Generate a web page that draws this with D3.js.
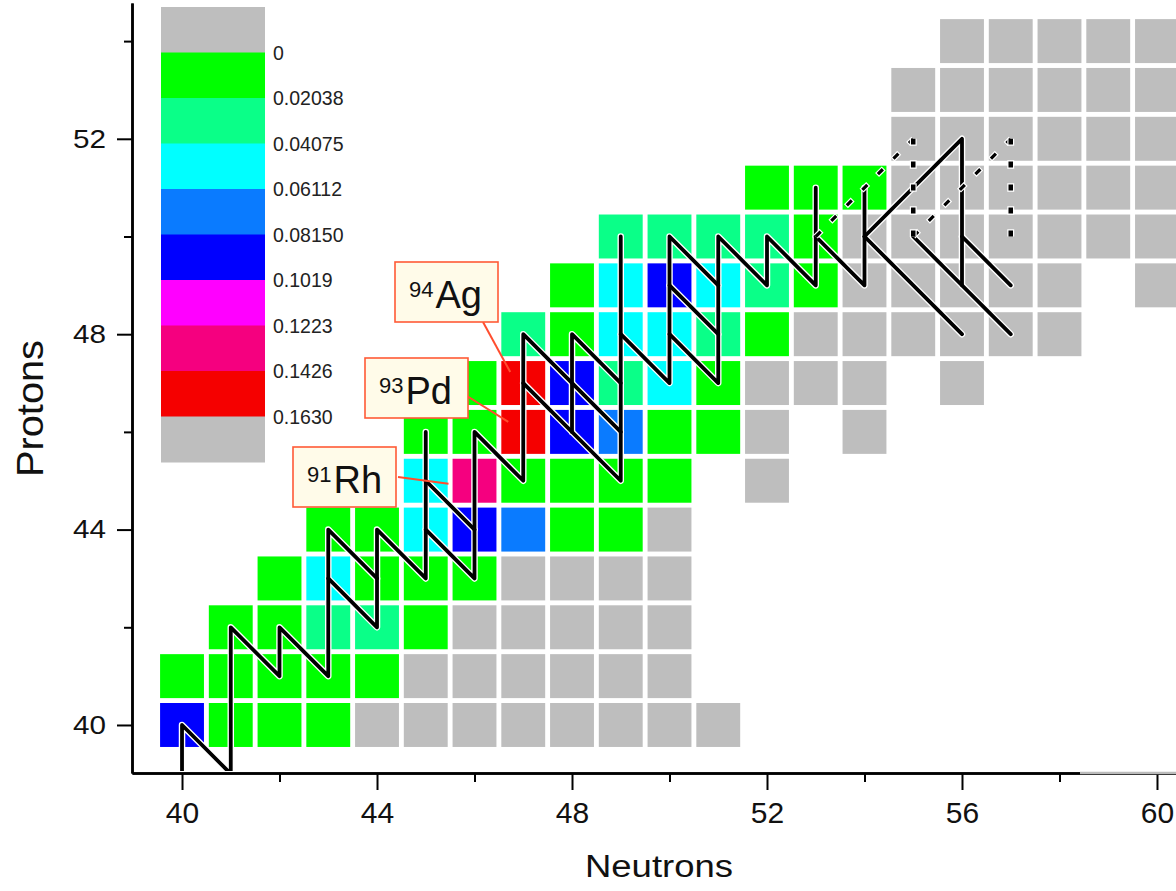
<!DOCTYPE html>
<html>
<head>
<meta charset="utf-8">
<script src="https://cdn.jsdelivr.net/npm/d3@7/dist/d3.min.js"></script>
<style>
  body { margin: 0; background: #fff; }
  svg { display: block; font-family: Arial, "Liberation Sans", sans-serif; }
</style>
</head>
<body>
<svg id="chart" width="1176" height="891"></svg>
<script>
// DATA

// one row of cells per proton number, starting at firstNeutron
// 0 = no flux (grey), null = no cell
var protons = [40, 41, 42, 43, 44, 45, 46, 47, 48, 49, 50, 51, 52, 53, 54];
var firstNeutron = [40, 40, 41, 42, 43, 45, 45, 46, 47, 48, 49, 52, 55, 55, 56];
var rowValues = [
  [0.092, 0.012, 0.010, 0.011, 0, 0, 0, 0, 0, 0, 0, 0],
  [0.008, 0.012, 0.015, 0.010, 0.006, 0, 0, 0, 0, 0, 0],
  [0.014, 0.017, 0.032, 0.028, 0.009, 0, 0, 0, 0, 0],
  [0.011, 0.055, 0.018, 0.013, 0.007, 0, 0, 0, 0],
  [0.009, 0.016, 0.052, 0.095, 0.075, 0.012, 0.005, 0],
  [0.050, 0.135, 0.015, 0.012, 0.008, 0.004, null, 0],
  [0.010, 0.013, 0.158, 0.094, 0.072, 0.011, 0.006, 0, null, 0],
  [0.012, 0.152, 0.090, 0.031, 0.049, 0.009, 0, 0, 0, null, 0],
  [0.027, 0.014, 0.055, 0.050, 0.030, 0.008, 0, 0, 0, 0, 0, 0],
  [0.010, 0.052, 0.088, 0.047, 0.025, 0.007, 0, 0, 0, 0, 0, null, 0],
  [0.030, 0.033, 0.029, 0.024, 0.006, 0, 0, 0, 0, 0, 0, 0],
  [0.012, 0.009, 0.004, 0, 0, 0, 0, 0, 0],
  [0, 0, 0, 0, 0, 0],
  [0, 0, 0, 0, 0, 0],
  [0, 0, 0, 0, 0]
];

var levels = [0, 0.02038, 0.04075, 0.06112, 0.08150, 0.1019, 0.1223, 0.1426, 0.1630];
var levelLabels = ['0', '0.02038', '0.04075', '0.06112', '0.08150', '0.1019', '0.1223', '0.1426', '0.1630'];
var levelColors = ['#bebebe', '#00ff00', '#0aff88', '#00ffff', '#0a7bff',
                   '#0000ff', '#ff00ff', '#f5007f', '#f50000', '#bebebe'];

var xTicks = [40, 44, 48, 52, 56, 60];
var xMinorTicks = [42, 46, 50, 54, 58];
var yTicks = [40, 44, 48, 52];
var yMinorTicks = [42, 46, 50, 54];

// reaction flow, as polylines of [N, Z]
var flowLines = [
  [[40, 39], [40, 40], [41, 39], [41, 42], [42, 41], [42, 42], [43, 41], [43, 44], [44, 43]],
  [[43, 43], [44, 42], [44, 44], [45, 43], [45, 46]],
  [[45, 45], [46, 44]],
  [[45, 44], [46, 43], [46, 46], [47, 45], [47, 48], [49, 46]],
  [[47, 47], [49, 45], [49, 50]],
  [[48, 46], [48, 48], [49, 47]],
  [[49, 48], [50, 47], [50, 50], [51, 49]],
  [[50, 49], [51, 48]],
  [[50, 48], [51, 47], [51, 50], [52, 49], [52, 50], [53, 49], [53, 51]],
  [[53, 50], [54, 49], [54, 51]],
  [[54, 50], [56, 52], [56, 49]],
  [[54, 50], [56, 48]],
  [[55, 50], [57, 48]],
  [[56, 50], [57, 49]]
];
var dashedLines = [
  [[53, 50], [55, 52]],
  [[55, 50], [57, 52]]
];
var dottedLines = [
  [[55, 50], [55, 52]],
  [[57, 50], [57, 52]]
];

// labelled nuclides
var tagMass = [94, 93, 91];
var tagSymbol = ['Ag', 'Pd', 'Rh'];
var tagN = [47, 47, 46];
var tagZ = [47, 46, 45];

// LAYOUT

var tagLayout = [
  { bx: 395, by: 262, sx: 483, sy: 322, ex: -13, ey: -11 },
  { bx: 365, by: 358, sx: 467, sy: 396, ex: -15, ey: -10 },
  { bx: 293, by: 447, sx: 398, sy: 477, ex: -26, ey: 3 }
];

var svg = d3.select('#chart');

var x = d3.scaleLinear().domain([38.974, 60.39]).range([132, 1176]);
var y = d3.scaleLinear().domain([39.017, 54.78]).range([773, 3]);

var color = d3.scaleThreshold()
  .domain(levels.slice(1))
  .range(levelColors.slice(1));
var fill = function(v) {
  return v > 0 ? color(v) : levelColors[0];
};

var cells = [];
protons.forEach(function(z, i) {
  rowValues[i].forEach(function(v, j) {
    if (v !== null) cells.push({ n: firstNeutron[i] + j, z: z, v: v });
  });
});

svg.append('defs').append('clipPath').attr('id', 'plot')
  .append('rect')
  .attr('x', 132).attr('y', 0)
  .attr('width', 1176 - 132).attr('height', 771);

// cells
svg.append('g').selectAll('rect')
  .data(cells)
  .enter()
  .append('rect')
  .attr('x', function(d) { return x(d.n - 0.45); })
  .attr('y', function(d) { return y(d.z + 0.45); })
  .attr('width', x(0.9) - x(0))
  .attr('height', y(0) - y(0.9))
  .attr('fill', function(d) { return fill(d.v); });

// legend
var legendY = d3.scaleLinear().domain([0, levelColors.length]).range([7, 462]);
var legend = svg.append('g');
legend.selectAll('rect')
  .data(levelColors)
  .enter()
  .append('rect')
  .attr('x', 161)
  .attr('width', 104)
  .attr('y', function(d, i) { return legendY(i); })
  .attr('height', legendY(1) - legendY(0) + 0.5)
  .attr('fill', function(d) { return d; });
legend.selectAll('text')
  .data(levelLabels)
  .enter()
  .append('text')
  .attr('x', 273)
  .attr('y', function(d, i) { return legendY(i + 1); })
  .attr('dy', '0.36em')
  .attr('font-size', 19.5)
  .attr('fill', '#222')
  .text(function(d) { return d; });

// flow lines
var line = d3.line()
  .x(function(d) { return x(d[0]); })
  .y(function(d) { return y(d[1]); });

var flow = svg.append('g').attr('clip-path', 'url(#plot)')
  .attr('fill', 'none');

flow.selectAll('path.halo')
  .data(flowLines)
  .enter()
  .append('path')
  .attr('class', 'halo')
  .attr('d', line)
  .attr('stroke', '#fff')
  .attr('stroke-width', 6.5)
  .attr('stroke-linejoin', 'round')
  .attr('stroke-linecap', 'round');

flow.selectAll('path.flow')
  .data(flowLines)
  .enter()
  .append('path')
  .attr('class', 'flow')
  .attr('d', line)
  .attr('stroke', '#000')
  .attr('stroke-width', 3.8)
  .attr('stroke-linejoin', 'round')
  .attr('stroke-linecap', 'round');

// uncertain branches: dashed diagonals, dotted verticals
[[dashedLines, [7, 15], 3.2], [dottedLines, [6, 17], 4.5]].forEach(function(s) {
  var dash = s[1];
  flow.selectAll(null)
    .data(s[0])
    .enter()
    .append('path')
    .attr('d', line)
    .attr('stroke', '#fff')
    .attr('stroke-width', s[2] + 2.4)
    .attr('stroke-dasharray', (dash[0] + 2.4) + ',' + (dash[1] - 2.4))
    .attr('stroke-dashoffset', 1.2)
    .attr('stroke-linecap', 'butt');
  flow.selectAll(null)
    .data(s[0])
    .enter()
    .append('path')
    .attr('d', line)
    .attr('stroke', '#000')
    .attr('stroke-width', s[2])
    .attr('stroke-dasharray', dash.join(','));
});

// axes
var axisStyle = function(g) {
  g.select('.domain').attr('stroke-width', 2.5);
  g.selectAll('.tick line').attr('stroke-width', 2);
  g.selectAll('text').attr('fill', '#111');
};

svg.append('g')
  .attr('transform', 'translate(0,773)')
  .call(d3.axisBottom(x).tickValues(xMinorTicks).tickSize(9).tickSizeOuter(0).tickFormat(''))
  .call(axisStyle);
svg.append('g')
  .attr('transform', 'translate(0,773)')
  .call(d3.axisBottom(x).tickValues(xTicks).tickSize(17).tickSizeOuter(0).tickPadding(12))
  .call(axisStyle)
  .selectAll('text')
  .attr('font-size', 30);

svg.append('line')
  .attr('x1', 1080).attr('x2', 1176)
  .attr('y1', 773).attr('y2', 773)
  .attr('stroke', '#bbb').attr('stroke-width', 2.5);

svg.append('g')
  .attr('transform', 'translate(132,0)')
  .call(d3.axisLeft(y).tickValues(yMinorTicks).tickSize(8).tickSizeOuter(0).tickFormat(''))
  .call(axisStyle);
svg.append('g')
  .attr('transform', 'translate(132,0)')
  .call(d3.axisLeft(y).tickValues(yTicks).tickSize(15).tickSizeOuter(0).tickPadding(11))
  .call(axisStyle)
  .selectAll('text')
  .attr('font-size', 26)
  .attr('textLength', 33)
  .attr('lengthAdjust', 'spacingAndGlyphs');

// axis titles
svg.append('text')
  .attr('x', 585).attr('y', 877)
  .attr('font-size', 31)
  .attr('textLength', 148)
  .attr('lengthAdjust', 'spacingAndGlyphs')
  .attr('fill', '#111')
  .text('Neutrons');

svg.append('text')
  .attr('transform', 'translate(43,477) rotate(-90)')
  .attr('font-size', 37)
  .attr('textLength', 137)
  .attr('lengthAdjust', 'spacingAndGlyphs')
  .attr('fill', '#111')
  .text('Protons');

// nuclide tags
var tags = svg.append('g').selectAll('g')
  .data(tagMass)
  .enter()
  .append('g');

tags.append('line')
  .attr('x1', function(d, i) { return tagLayout[i].sx; })
  .attr('y1', function(d, i) { return tagLayout[i].sy; })
  .attr('x2', function(d, i) { return x(tagN[i]) + tagLayout[i].ex; })
  .attr('y2', function(d, i) { return y(tagZ[i]) + tagLayout[i].ey; })
  .attr('stroke', '#ff4d2e')
  .attr('stroke-width', 2);

tags.append('rect')
  .attr('x', function(d, i) { return tagLayout[i].bx; })
  .attr('y', function(d, i) { return tagLayout[i].by; })
  .attr('width', 103)
  .attr('height', 60)
  .attr('fill', '#fffbe9')
  .attr('stroke', '#ff5a36')
  .attr('stroke-width', 1.6);

var tagText = tags.append('text')
  .attr('x', function(d, i) { return tagLayout[i].bx + 14; })
  .attr('y', function(d, i) { return tagLayout[i].by + 46; })
  .attr('fill', '#111');
tagText.append('tspan')
  .attr('font-size', 22)
  .attr('dy', -11)
  .text(function(d) { return d; });
tagText.append('tspan')
  .attr('font-size', 38)
  .attr('dy', 11)
  .attr('dx', 2)
  .text(function(d, i) { return tagSymbol[i]; });
</script>
</body>
</html>
